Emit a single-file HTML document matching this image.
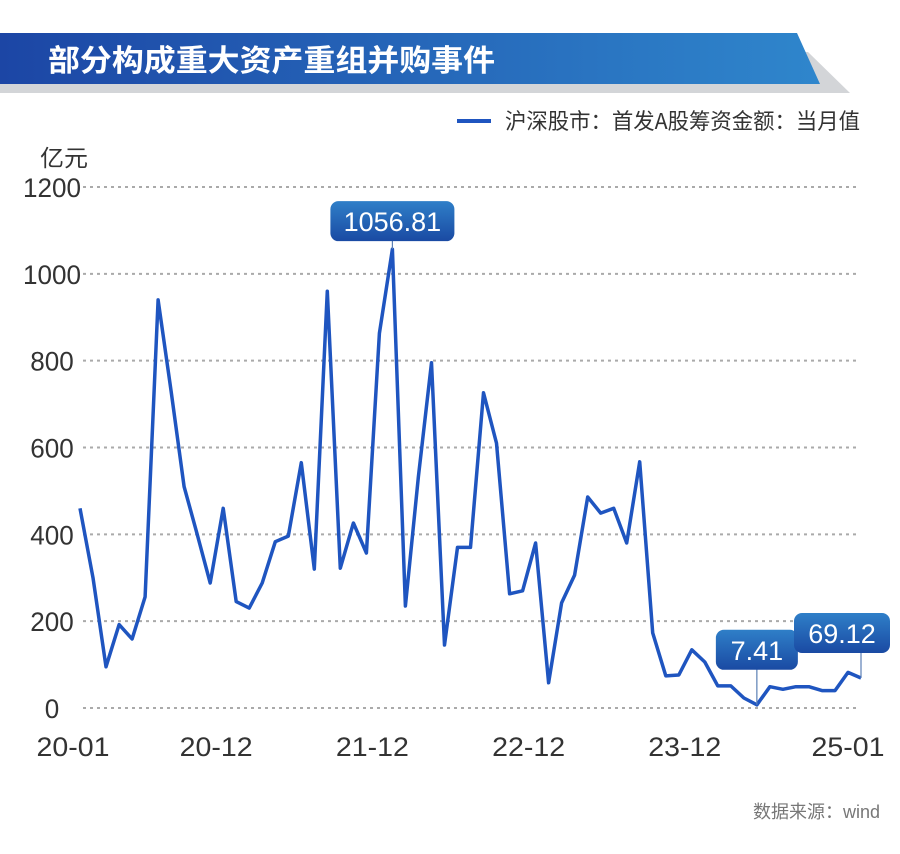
<!DOCTYPE html>
<html><head><meta charset="utf-8"><style>
body{margin:0;background:#fff;}
svg{display:block;font-family:"Liberation Sans","Noto Sans CJK SC",sans-serif;}
</style></head><body>
<svg width="900" height="854" viewBox="0 0 900 854">
<defs>
<linearGradient id="bg" x1="0" x2="1" y1="0" y2="0"><stop offset="0" stop-color="#1c46a5"/><stop offset="1" stop-color="#2f86cc"/></linearGradient>
<linearGradient id="lb" x1="0" x2="0" y1="0" y2="1"><stop offset="0" stop-color="#2f7fc8"/><stop offset="1" stop-color="#1a4aa3"/></linearGradient>
</defs>
<polygon points="0,52 808,52 850,93 0,93" fill="#d3d5d8"/>
<polygon points="0,33 797,33 820,84 0,84" fill="url(#bg)"/>
<text x="48" y="71" font-size="30" font-weight="bold" fill="#fff" textLength="447" lengthAdjust="spacingAndGlyphs" font-family="'Noto Sans CJK SC',sans-serif">部分构成重大资产重组并购事件</text>
<line x1="457" y1="121" x2="491" y2="121" stroke="#1f55c0" stroke-width="4"/>
<text x="505" y="129" font-size="22" textLength="355" lengthAdjust="spacingAndGlyphs" fill="#333" font-family="'Noto Sans CJK SC',sans-serif">沪深股市：首发A股筹资金额：当月值</text>
<text x="40" y="166" font-size="23" textLength="48" lengthAdjust="spacingAndGlyphs" fill="#333" font-family="'Noto Sans CJK SC',sans-serif">亿元</text>
<g id="grid"></g><g id="ylab"></g><g id="xlab"></g>
<path id="line" fill="none" stroke="#1f55c0" stroke-width="3.5" stroke-linejoin="round"/>
<g id="ann"></g>
<text x="880" y="818" font-size="18" text-anchor="end" fill="#777" font-family="'Liberation Sans','Noto Sans CJK SC',sans-serif">数据来源：wind</text>
</svg>
<script>
const values=[460,300,95,192,159,256,940,730,510,400,288,460,245,230,288,383,396,565,320,960,322,426,357,863,1056.81,235,533,795,145,370,370,726,610,263,270,380,58,242,306,486,449,460,380,567,173,74,76,134,106,51,51,23,7.41,49,43,49,49,40,40,82,69.12];
const yTicks=[0,200,400,600,800,1000,1200];
const xLabels=["20-01","20-12","21-12","22-12","23-12","25-01"];
const xLabelIdx=[0,11,23,35,47,60];
const annIdx=[24,52,60];
const annText=["1056.81","7.41","69.12"];
const NS="http://www.w3.org/2000/svg";
const X=i=>80+i*(781/60), Y=v=>708-v*(521/1200);
function mk(t,a,p){const e=document.createElementNS(NS,t);for(const k in a)e.setAttribute(k,a[k]);p.appendChild(e);return e;}
const g=document.getElementById('grid'),yl=document.getElementById('ylab'),xl=document.getElementById('xlab'),an=document.getElementById('ann');
yTicks.forEach(t=>{
 const l=mk('line',{x1:83,x2:860,y1:Y(t),y2:Y(t),stroke:'#aaa','stroke-width':2,'stroke-dasharray':'3,4'},g);
 
 
 const tx=mk('text',{x:52,y:Y(t)+10,'font-size':27,'text-anchor':'middle',fill:'#333',textLength:String(t).length*14.5,lengthAdjust:'spacingAndGlyphs'},yl);
 tx.textContent=t;
 
 
});
xLabels.forEach((s,k)=>{
 const tx=mk('text',{x:Math.min(X(xLabelIdx[k])-7,848),y:756,'font-size':27,'text-anchor':'middle',fill:'#333',textLength:73,lengthAdjust:'spacingAndGlyphs'},xl);
 tx.textContent=s;
 
 
});
document.getElementById('line').setAttribute('d',values.map((v,i)=>(i?'L':'M')+X(i).toFixed(1)+','+Y(v).toFixed(1)).join(''));
annIdx.forEach((i,k)=>{
 const w=annText[k].length*14+26, cx=Math.min(X(i),890-w/2), bx=cx-w/2;
 const by= k==0? Y(values[i])-48 : Y(values[i])-(k==1?75:65);
 const ln=mk('line',{x1:X(i),x2:X(i),y1:by+38,y2:Y(values[i]),stroke:'#5b7fb5','stroke-width':1.2},an);
 
 
 const r=mk('rect',{x:bx,y:by,width:w,height:40,rx:8,fill:'url(#lb)'},an);
 
 
 const t=mk('text',{x:cx,y:by+30,'font-size':27,'text-anchor':'middle',fill:'#fff','font-family':'Liberation Sans,sans-serif'},an);
 t.textContent=annText[k];
 
 
});
</script>
</body></html>
